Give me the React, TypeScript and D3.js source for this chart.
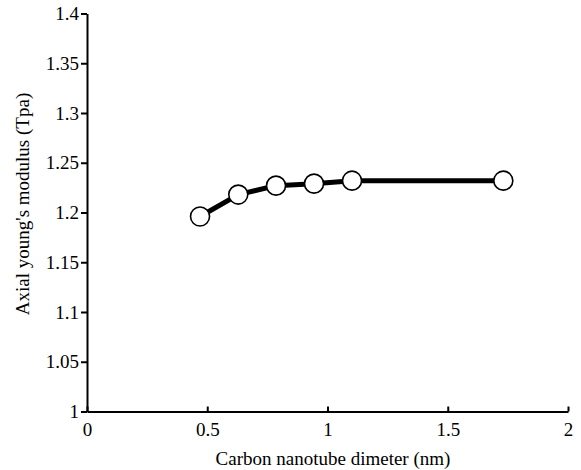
import React, { useEffect, useRef } from "react";
import * as d3 from "d3";

// diameters (nm) and axial young's modulus (Tpa)
const diameters = [0.47, 0.629, 0.786, 0.944, 1.102, 1.731];
const modulus = [1.196, 1.218, 1.227, 1.229, 1.232, 1.232];
const xTicks = [0, 0.5, 1, 1.5, 2];
const yTicks = [1, 1.05, 1.1, 1.15, 1.2, 1.25, 1.3, 1.35, 1.4];

const WIDTH = 581;
const HEIGHT = 470;
const FONT = "Times New Roman, Times, serif";

export default function App() {
  const svgRef = useRef<SVGSVGElement>(null);

  useEffect(() => {
    const margin = { top: 13.5, right: 13, bottom: 58.5, left: 87 };
    const svg = d3.select(svgRef.current).attr("font-family", FONT);
    svg.selectAll("*").remove();

    const x = d3
      .scaleLinear()
      .domain([0, 2])
      .range([margin.left, WIDTH - margin.right]);
    const y = d3
      .scaleLinear()
      .domain([1, 1.4])
      .range([HEIGHT - margin.bottom, margin.top]);

    // y axis, ticks outside
    const yAxis = svg
      .append("g")
      .attr("transform", `translate(${margin.left},0)`)
      .call(
        d3
          .axisLeft(y)
          .tickValues(yTicks)
          .tickFormat((d) => String(+d))
          .tickSizeInner(6)
          .tickSizeOuter(0)
          .tickPadding(2)
      );

    // x axis, ticks pointing up
    const xAxis = svg
      .append("g")
      .attr("transform", `translate(0,${HEIGHT - margin.bottom})`)
      .call(
        d3
          .axisBottom(x)
          .tickValues(xTicks)
          .tickFormat((d) => String(+d))
          .tickSizeInner(-5)
          .tickSizeOuter(0)
          .tickPadding(11)
      );

    [yAxis, xAxis].forEach((ax) => {
      ax.attr("font-family", FONT).attr("font-size", 19);
      ax.select(".domain").attr("stroke", "#000").attr("stroke-width", 2);
      ax.selectAll(".tick line").attr("stroke", "#000").attr("stroke-width", 2);
      ax.selectAll(".tick text").attr("fill", "#000");
    });
    xAxis.selectAll(".tick text").attr("dy", "0.71em");

    // axis titles
    svg
      .append("text")
      .attr("x", 333)
      .attr("y", 465)
      .attr("text-anchor", "middle")
      .attr("font-size", 19)
      .text("Carbon nanotube dimeter (nm)");

    svg
      .append("text")
      .attr("transform", `translate(29,204) rotate(-90)`)
      .attr("text-anchor", "middle")
      .attr("font-size", 19)
      .text("Axial young's modulus (Tpa)");

    const points = diameters.map((d, i) => [d, modulus[i]] as [number, number]);

    const line = d3
      .line<[number, number]>()
      .x((d) => x(d[0]))
      .y((d) => y(d[1]));

    svg
      .append("path")
      .datum(points)
      .attr("d", line)
      .attr("fill", "none")
      .attr("stroke", "#000")
      .attr("stroke-width", 5)
      .attr("stroke-linejoin", "round");

    svg
      .selectAll("circle.pt")
      .data(points)
      .enter()
      .append("circle")
      .attr("class", "pt")
      .attr("cx", (d) => x(d[0]))
      .attr("cy", (d) => y(d[1]))
      .attr("r", 9.5)
      .attr("fill", "#fff")
      .attr("stroke", "#000")
      .attr("stroke-width", 1.6);
  }, []);

  return (
    <svg
      ref={svgRef}
      width={WIDTH}
      height={HEIGHT}
      style={{ position: "absolute", left: 0, top: 0, background: "#fff" }}
    />
  );
}
